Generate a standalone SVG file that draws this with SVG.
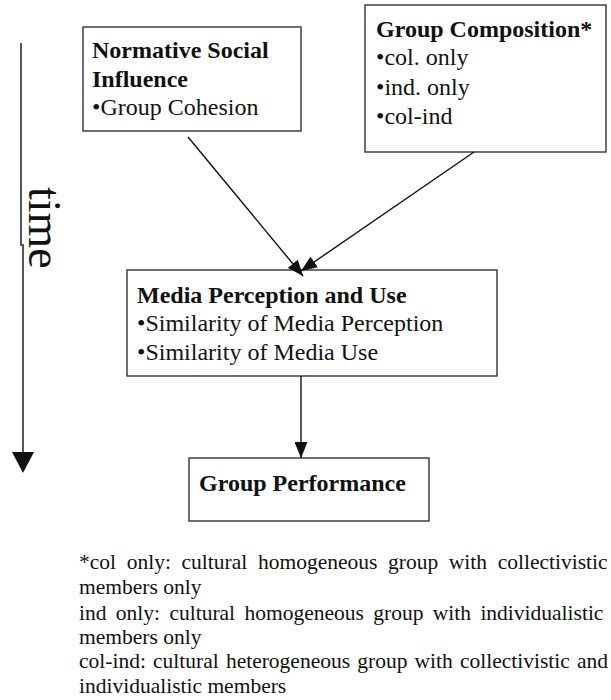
<svg xmlns="http://www.w3.org/2000/svg" width="611" height="700" viewBox="0 0 611 700">
<style>
  .box { fill: #ffffff; stroke: #333333; stroke-width: 1.4; }
  .t { font-family: "Liberation Serif", "Times New Roman", serif; font-size: 24px; fill: #111111; }
  .b { font-weight: bold; }
  .conn { stroke: #111111; stroke-width: 1.4; fill: none; }
  .note { font-family: "Liberation Serif", "Times New Roman", serif; font-size: 21.5px; fill: #111111; }
</style>
<defs>
  <marker id="arr" markerUnits="userSpaceOnUse" markerWidth="16" markerHeight="13" viewBox="0 0 16 13" refX="16" refY="6.5" orient="auto">
    <path d="M0,0 L16,6.5 L0,13 Z" fill="#111111"/>
  </marker>
</defs>
<rect width="611" height="700" fill="#ffffff"/>

<g id="time-axis">
  <path class="conn" d="M21,43 V246 M23,244 V454"/>
  <polygon points="12,452 34,452 23,473" fill="#111111"/>
  <text class="t" transform="translate(29,187) rotate(90)" style="font-size:46px">time</text>
</g>

<g id="node-normative">
  <rect class="box" x="83" y="27" width="218" height="104"/>
  <text class="t b" x="92" y="58">Normative Social</text>
  <text class="t b" x="92" y="87">Influence</text>
  <text class="t" x="92" y="115">•Group Cohesion</text>
</g>

<g id="node-composition">
  <rect class="box" x="365" y="5" width="241" height="147"/>
  <text class="t b" x="376" y="37">Group Composition*</text>
  <text class="t" x="376" y="65">•col. only</text>
  <text class="t" x="376" y="95">•ind. only</text>
  <text class="t" x="376" y="124">•col-ind</text>
</g>

<g id="node-media">
  <rect class="box" x="127" y="270" width="370" height="106"/>
  <text class="t b" x="137" y="303">Media Perception and Use</text>
  <text class="t" x="137" y="331">•Similarity of Media Perception</text>
  <text class="t" x="137" y="360">•Similarity of Media Use</text>
</g>

<g id="node-performance">
  <rect class="box" x="189" y="458" width="240" height="63"/>
  <text class="t b" x="199" y="491">Group Performance</text>
</g>

<g id="connectors">
  <line class="conn" x1="188" y1="137" x2="303" y2="276" marker-end="url(#arr)"/>
  <line class="conn" x1="474" y1="152" x2="301" y2="271" marker-end="url(#arr)"/>
  <line class="conn" x1="301" y1="376" x2="301" y2="458" marker-end="url(#arr)"/>
</g>

<g id="footnote">
  <text class="note" x="79" y="569" style="word-spacing:5.3px">*col only: cultural homogeneous group with collectivistic</text>
  <text class="note" x="79" y="594">members only</text>
  <text class="note" x="79" y="620" style="word-spacing:4px">ind only: cultural homogeneous group with individualistic</text>
  <text class="note" x="79" y="644">members only</text>
  <text class="note" x="79" y="668" style="word-spacing:1.8px">col-ind: cultural heterogeneous group with collectivistic and</text>
  <text class="note" x="79" y="693">individualistic members</text>
</g>
</svg>
